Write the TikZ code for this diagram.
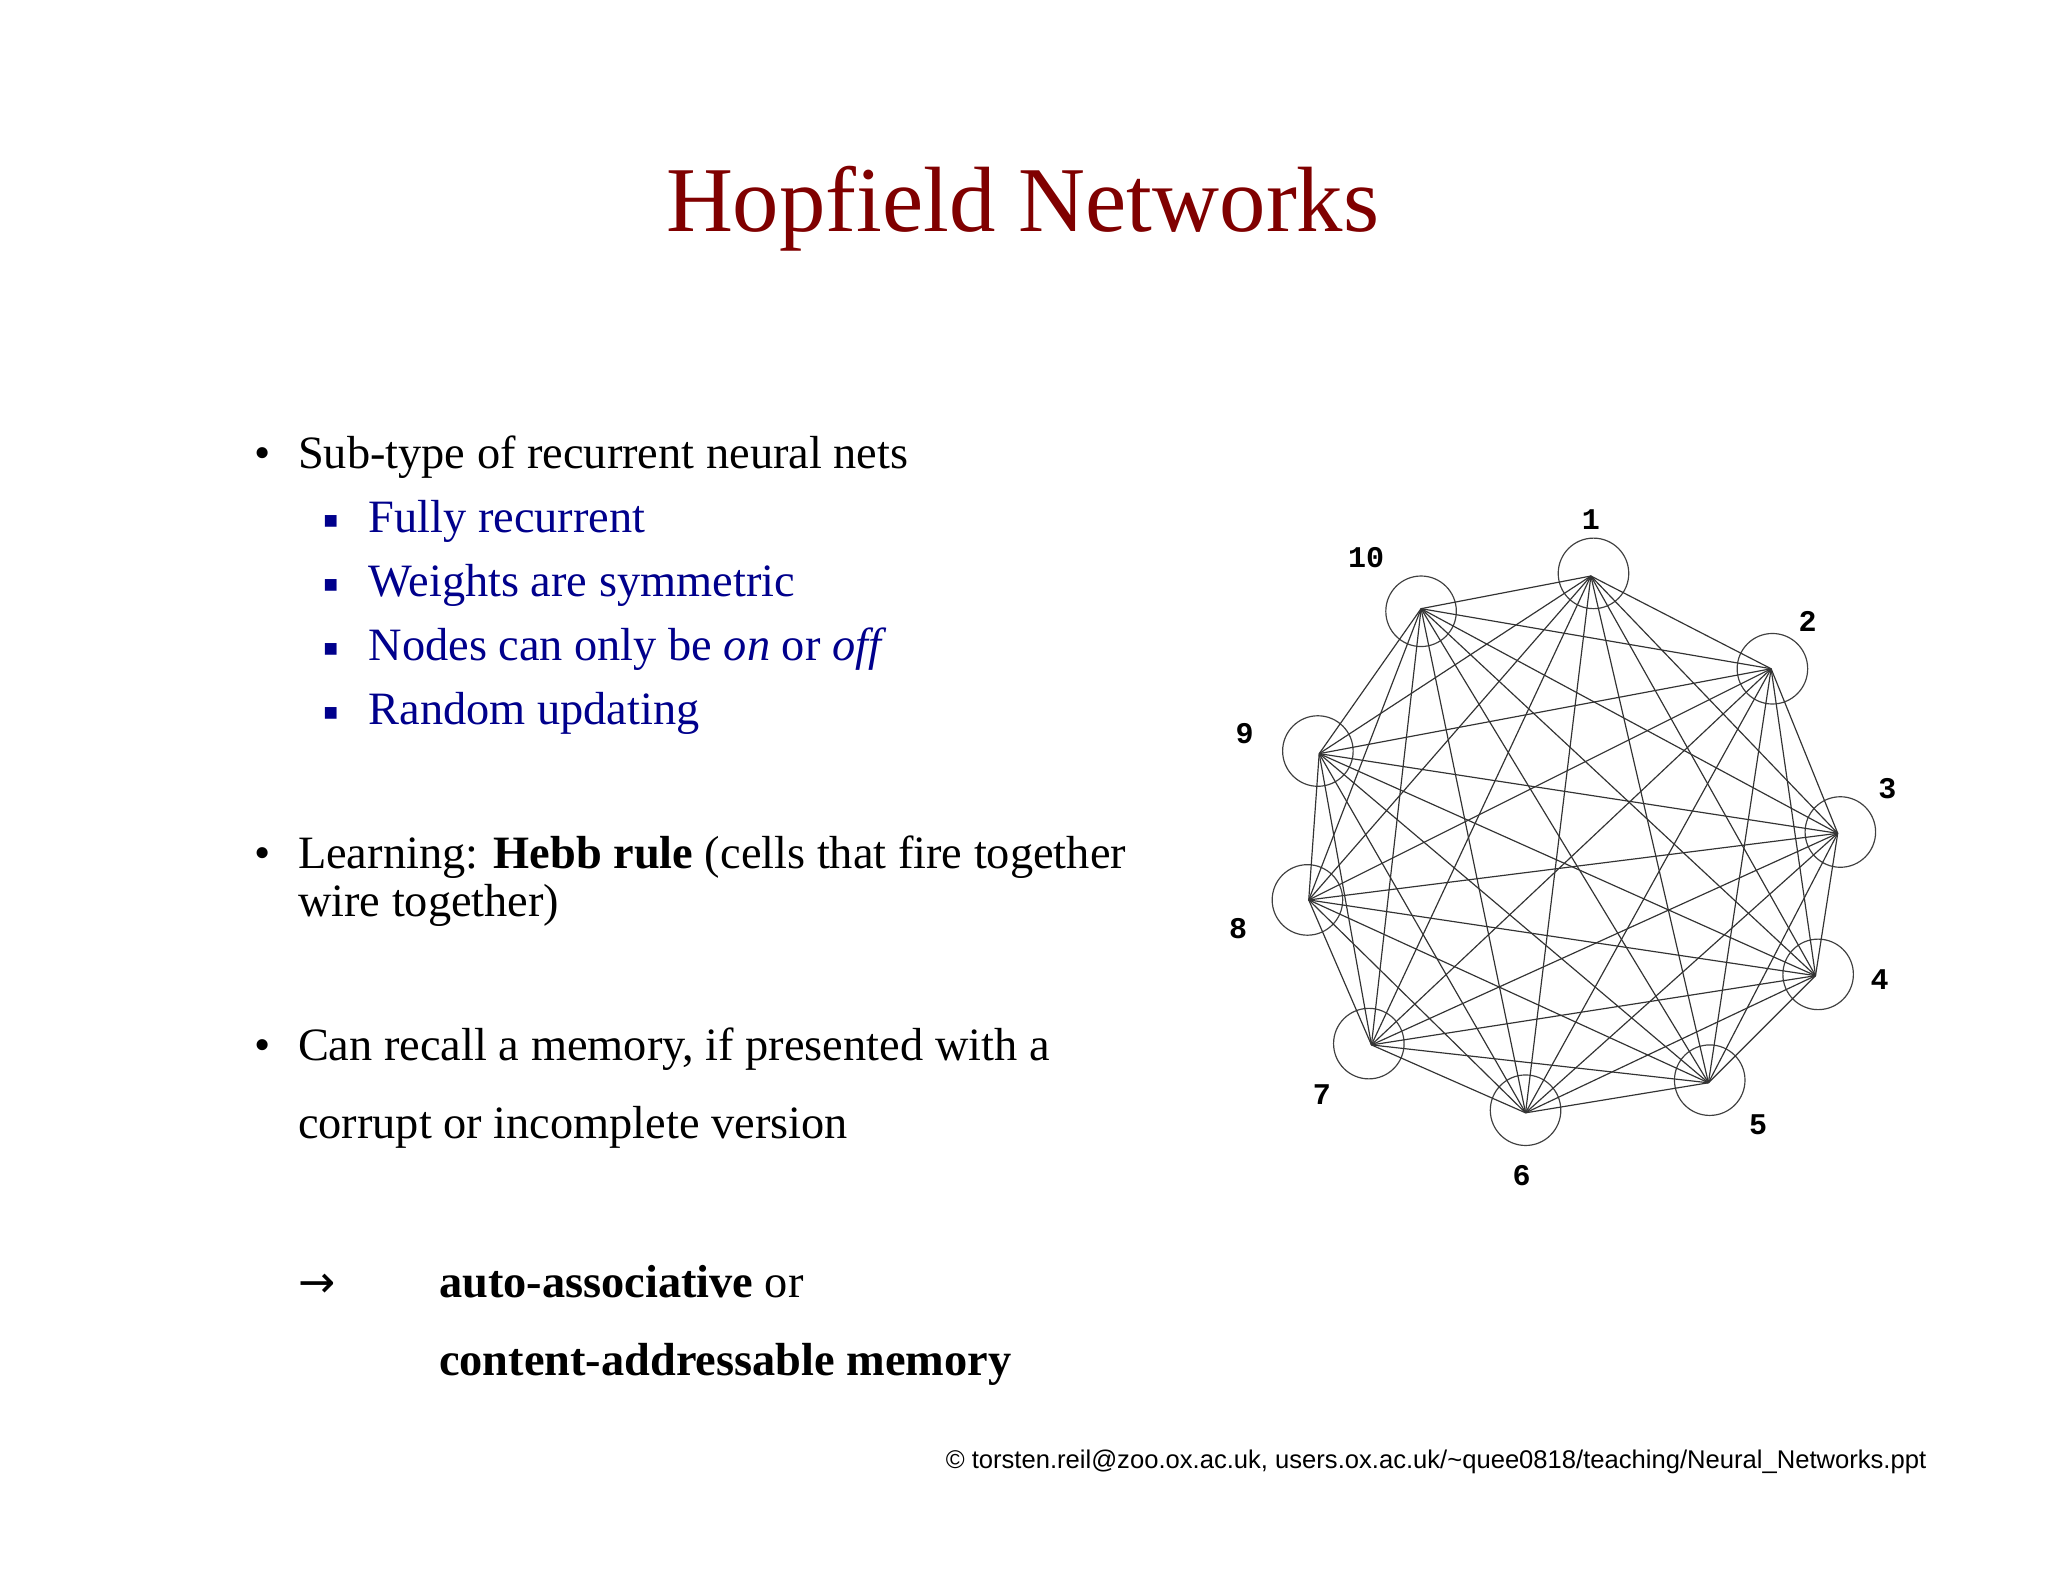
\documentclass[tikz,border=0pt]{standalone}
\usepackage{fontspec}
\setmainfont{Liberation Serif}
\newfontfamily\lsans{Liberation Sans}
\newfontfamily\lmono{Liberation Mono}
\newfontfamily\djv{DejaVu Sans}
\definecolor{titlered}{RGB}{128,0,0}
\definecolor{subblue}{RGB}{0,0,140}
\begin{document}
\begin{tikzpicture}[x=1pt,y=-1pt,
  txt/.style={anchor=base west,inner sep=0pt,font=\fontsize{35.5}{40}\selectfont},
  sub/.style={txt,text=subblue},
  neur/.style={circle,draw=black!75,line width=0.9pt,minimum size=54pt,inner sep=0pt},
  lab/.style={font=\lmono\bfseries\fontsize{23}{25}\selectfont},
  edge/.style={draw=black!80,line width=0.9pt}]
\useasboundingbox[fill=white] (0,0) rectangle (1568,1211);
\node[font=\fontsize{71}{74}\selectfont,text=titlered] (title) at (783,160) {Hopfield Networks};
% bullets
\node[txt] (b1) at (195,359) {\textbullet};
\node[txt] (t1) at (228,359) {Sub-type of recurrent neural nets};
\foreach \y/\t [count=\i] in {408/Fully recurrent,457/Weights are symmetric,506/{Nodes can only be \textit{on} or \textit{off}},555/Random updating}{
  \node[sub,font=\fontsize{18}{20}\selectfont] (sb\i) at (247,\y-4) {\djv ▪};
  \node[sub] (st\i) at (282,\y) {\t};
}
\node[txt] (b2) at (195,665) {\textbullet};
\node[txt] (t2) at (228,665) {Learning: \textbf{Hebb rule} (cells that fire together};
\node[txt] (t2b) at (228,702) {wire together)};
\node[txt] (b3) at (195,812) {\textbullet};
\node[txt] (t3) at (228,812) {Can recall a memory, if presented with a};
\node[txt] (t3b) at (228,872) {corrupt or incomplete version};
\node[txt,font=\djv\fontsize{34}{36}\selectfont] (arr) at (228,993) {→};
\node[txt] (t4) at (336,993) {\textbf{auto-associative} or};
\node[txt] (t4b) at (336,1053) {\textbf{content-addressable memory}};
\node[anchor=base east,inner sep=0pt,font=\lsans\fontsize{19.6}{21}\selectfont] (copy) at (1475,1124) {© torsten.reil@zoo.ox.ac.uk, users.ox.ac.uk/\textasciitilde quee0818/teaching/Neural\_Networks.ppt};
% network
\foreach \n/\x/\y/\cx/\cy/\lx/\ly in {1/1218/441/1220/439/1218/398, 2/1356/512/1357/512/1384/476, 3/1407/638/1409/637/1445/604, 4/1390/747/1392/746/1439/750, 5/1308/829/1309/827/1346/861, 6/1168/852/1168/850/1165/900, 7/1050/800/1048/799/1012/838, 8/1002/689/1001/689/948/711, 9/1010/577/1009/575/953/562, 10/1088/466/1088/468/1046/427}{
  \coordinate (p\n) at (\x,\y);
  \node[neur] (c\n) at (\cx,\cy) {};
  \node[lab] (l\n) at (\lx,\ly) {\n};
}
\foreach \i in {1,...,10}{\foreach \j in {1,...,10}{\ifnum\i<\j \draw[edge] (p\i) -- (p\j);\fi}}
\end{tikzpicture}
\end{document}
